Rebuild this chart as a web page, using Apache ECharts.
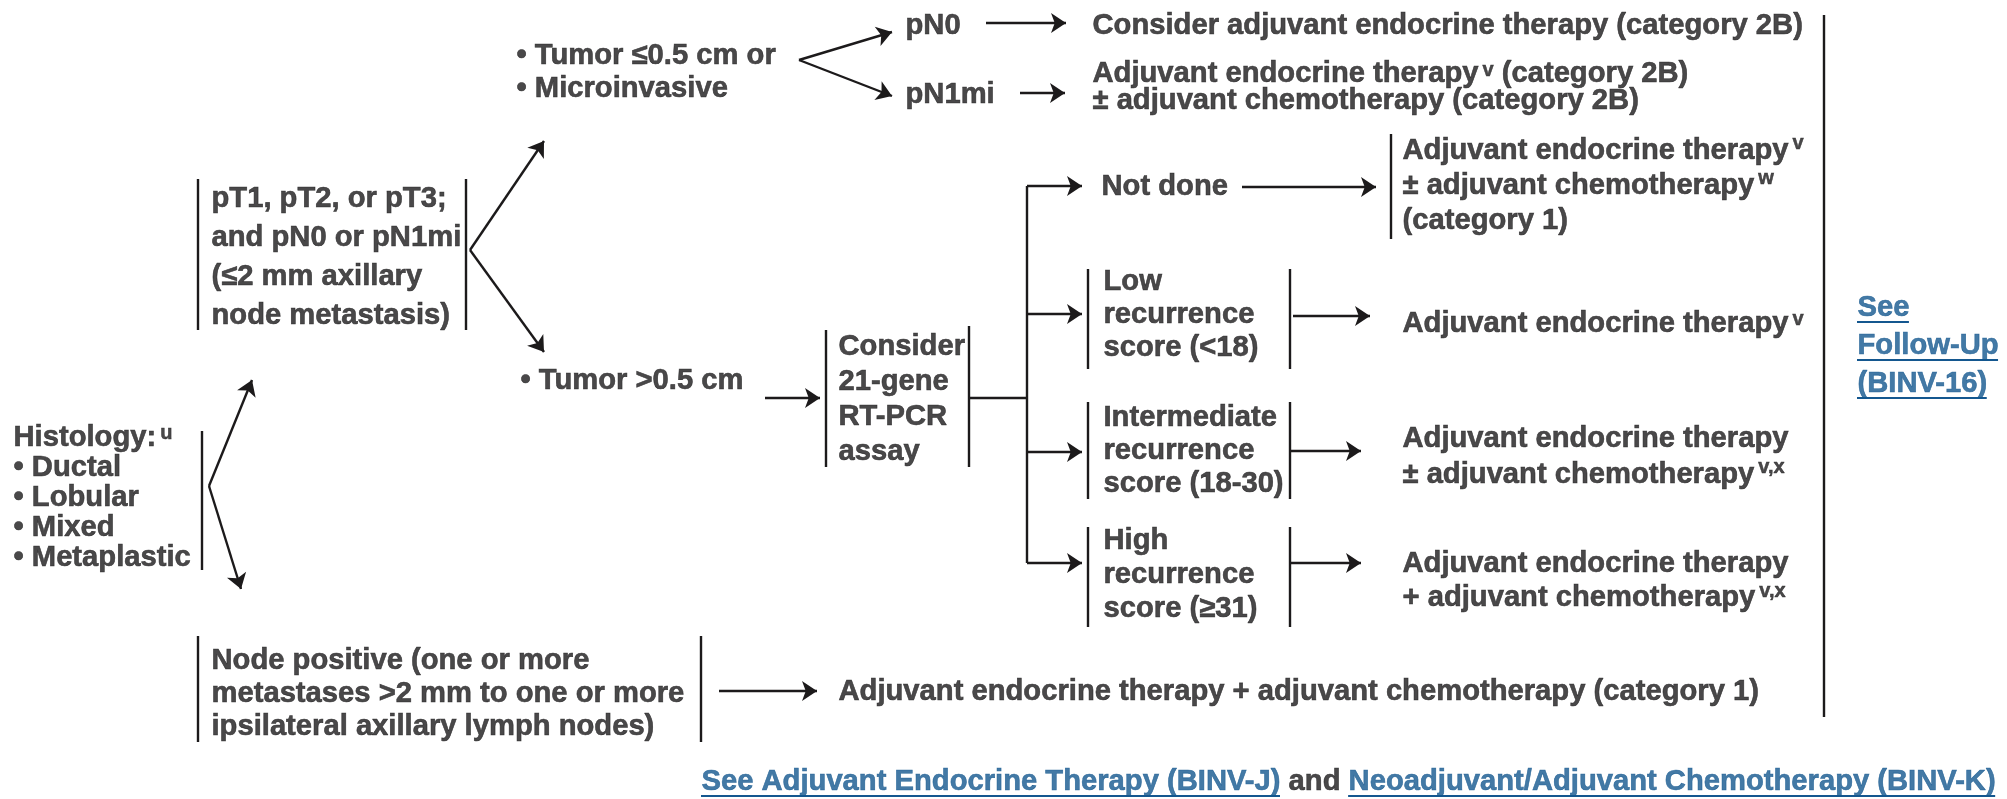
<!DOCTYPE html>
<html>
<head>
<meta charset="utf-8">
<script src="https://cdn.jsdelivr.net/npm/echarts@6/dist/echarts.min.js"></script>
<style>
  html, body { margin: 0; padding: 0; background: #fff; }
  #main { width: 2007px; height: 799px; }
</style>
</head>
<body>
<div id="main"></div>
<script>
// flowchart texts, one entry per box (rich markup {s|..} = superscript)
var boxTexts = [
  '• Tumor ≤0.5 cm or\n• Microinvasive',
  'pN0',
  'pN1mi',
  'Consider adjuvant endocrine therapy (category 2B)',
  'Adjuvant endocrine therapy{s|v} (category 2B)\n± adjuvant chemotherapy (category 2B)',
  'pT1, pT2, or pT3;\nand pN0 or pN1mi\n(≤2 mm axillary\nnode metastasis)',
  'Histology:{s|u}\n• Ductal\n• Lobular\n• Mixed\n• Metaplastic',
  'Node positive (one or more\nmetastases >2 mm to one or more\nipsilateral axillary lymph nodes)',
  '• Tumor >0.5 cm',
  'Consider\n21-gene\nRT-PCR\nassay',
  'Not done',
  'Adjuvant endocrine therapy{s|v}\n± adjuvant chemotherapy{s|w}\n(category 1)',
  'Low\nrecurrence\nscore (<18)',
  'Adjuvant endocrine therapy{s|v}',
  'Intermediate\nrecurrence\nscore (18-30)',
  'Adjuvant endocrine therapy\n± adjuvant chemotherapy{s|v,x}',
  'High\nrecurrence\nscore (≥31)',
  'Adjuvant endocrine therapy\n+ adjuvant chemotherapy{s|v,x}',
  'Adjuvant endocrine therapy + adjuvant chemotherapy (category 1)'
];

// links (blue, underlined)
var followUpLines = ['See', 'Follow-Up', '(BINV-16)'];
var footerParts = ['See Adjuvant Endocrine Therapy (BINV-J)', ' and ', 'Neoadjuvant/Adjuvant Chemotherapy (BINV-K)'];

// layout: left x, middle y, line height of each box
var boxPos = [
  [516, 72, 33], [905, 26, 30], [905, 95, 30], [1092, 26, 30], [1092, 87, 27],
  [211, 257, 39], [13, 498, 30], [211, 694, 33], [520, 381, 30], [838, 399, 35],
  [1101, 187, 30], [1402, 186, 35], [1103, 315, 33], [1402, 324, 30], [1103, 451, 33],
  [1402, 457, 36], [1103, 575, 34], [1402, 581, 34], [838, 692, 30]
];
var followUpPos = [1857, 346, 38];
var footerPos = [701, 782];

// connectors with arrow heads
var arrowPaths = [
  [[799, 60], [892, 32]], [[799, 60], [892, 96]],
  [[986, 23], [1066, 23]], [[1020, 93], [1065, 93]],
  [[470, 250], [544, 141]], [[470, 250], [544, 352]],
  [[209, 486], [252, 380]], [[209, 486], [241, 589]],
  [[719, 691], [817, 691]], [[765, 398], [820, 398]],
  [[1027, 186], [1082, 186]], [[1027, 314], [1082, 314]],
  [[1027, 452], [1082, 452]], [[1027, 563], [1082, 563]],
  [[1242, 187], [1376, 187]], [[1293, 316], [1370, 316]],
  [[1290, 451], [1361, 451]], [[1290, 563], [1361, 563]]
];
// plain bars and connectors
var barPaths = [
  [[198, 179], [198, 330]], [[466, 179], [466, 330]],
  [[202, 431], [202, 570]],
  [[198, 636], [198, 742]], [[701, 636], [701, 742]],
  [[826, 330], [826, 467]], [[969, 326], [969, 467]],
  [[969, 398], [1027, 398]], [[1027, 186], [1027, 563]],
  [[1391, 134], [1391, 239]],
  [[1088, 269], [1088, 369]], [[1290, 269], [1290, 369]],
  [[1088, 402], [1088, 499]], [[1290, 402], [1290, 499]],
  [[1088, 527], [1088, 627]], [[1290, 527], [1290, 627]],
  [[1824, 15], [1824, 717]]
];

var FONT = 'Liberation Sans';
var FS = 29.2;
var INK = '#1c1a1b';
var BLUE = '#14578f';

var ctx = document.createElement('canvas').getContext('2d');
ctx.font = 'bold ' + FS + 'px "' + FONT + '"';
function tw(s) { return ctx.measureText(s).width; }

// underline segments for the links
var underPaths = [];
followUpLines.forEach(function (t, i) {
  var y = followUpPos[1] + (i - 1) * followUpPos[2] + 14;
  underPaths.push([[followUpPos[0], y], [followUpPos[0] + tw(t), y]]);
});
var fx = footerPos[0];
footerParts.forEach(function (t, i) {
  var w = tw(t);
  if (i !== 1) underPaths.push([[fx, footerPos[1] + 14], [fx + w, footerPos[1] + 14]]);
  fx += w;
});

function richFor(lh) {
  return {
    s: { fontFamily: FONT, fontWeight: 'bold', fontSize: 20, color: INK, textBorderColor: INK, textBorderWidth: 0.5, verticalAlign: 'top', lineHeight: lh, padding: [0, 0, 0, 4] },
    a: { fontFamily: FONT, fontWeight: 'bold', fontSize: FS, color: BLUE, textBorderColor: BLUE, textBorderWidth: 0.6, lineHeight: lh }
  };
}

var textData = boxTexts.map(function (t, i) {
  var p = boxPos[i];
  return {
    value: [p[0], p[1]],
    label: { formatter: t, lineHeight: p[2], rich: richFor(p[2]) }
  };
});
textData.push({
  value: [followUpPos[0], followUpPos[1]],
  label: { formatter: followUpLines.join('\n'), lineHeight: followUpPos[2], color: BLUE, textBorderColor: BLUE, rich: richFor(followUpPos[2]) }
});
textData.push({
  value: footerPos,
  label: { formatter: '{a|' + footerParts[0] + '}' + footerParts[1] + '{a|' + footerParts[2] + '}', lineHeight: 30, rich: richFor(30) }
});

var chart = echarts.init(document.getElementById('main'));
var option = {
  animation: false,
  backgroundColor: '#fff',
  grid: { left: 0, right: 0, top: 0, bottom: 0 },
  xAxis: { type: 'value', min: 0, max: 2007, show: false },
  yAxis: { type: 'value', min: 0, max: 799, inverse: true, show: false },
  series: [
    {
      type: 'lines',
      coordinateSystem: 'cartesian2d',
      symbol: ['none', 'arrow'],
      symbolSize: 15,
      lineStyle: { color: INK, width: 2.4, opacity: 1 },
      silent: true,
      data: arrowPaths.map(function (c) { return { coords: c }; })
    },
    {
      type: 'lines',
      coordinateSystem: 'cartesian2d',
      symbol: 'none',
      lineStyle: { color: INK, width: 2.4, opacity: 1 },
      silent: true,
      data: barPaths.map(function (c) { return { coords: c }; })
    },
    {
      type: 'lines',
      coordinateSystem: 'cartesian2d',
      symbol: 'none',
      lineStyle: { color: BLUE, width: 2.2, opacity: 1 },
      silent: true,
      data: underPaths.map(function (c) { return { coords: c }; })
    },
    {
      type: 'scatter',
      symbolSize: 1,
      itemStyle: { color: 'transparent' },
      silent: true,
      label: {
        show: true,
        position: 'right',
        distance: 0,
        fontFamily: FONT,
        fontWeight: 'bold',
        fontSize: FS,
        color: INK,
        textBorderColor: INK,
        textBorderWidth: 0.6,
        align: 'left',
        verticalAlign: 'middle'
      },
      data: textData
    }
  ]
};
chart.setOption(option);
</script>
</body>
</html>
